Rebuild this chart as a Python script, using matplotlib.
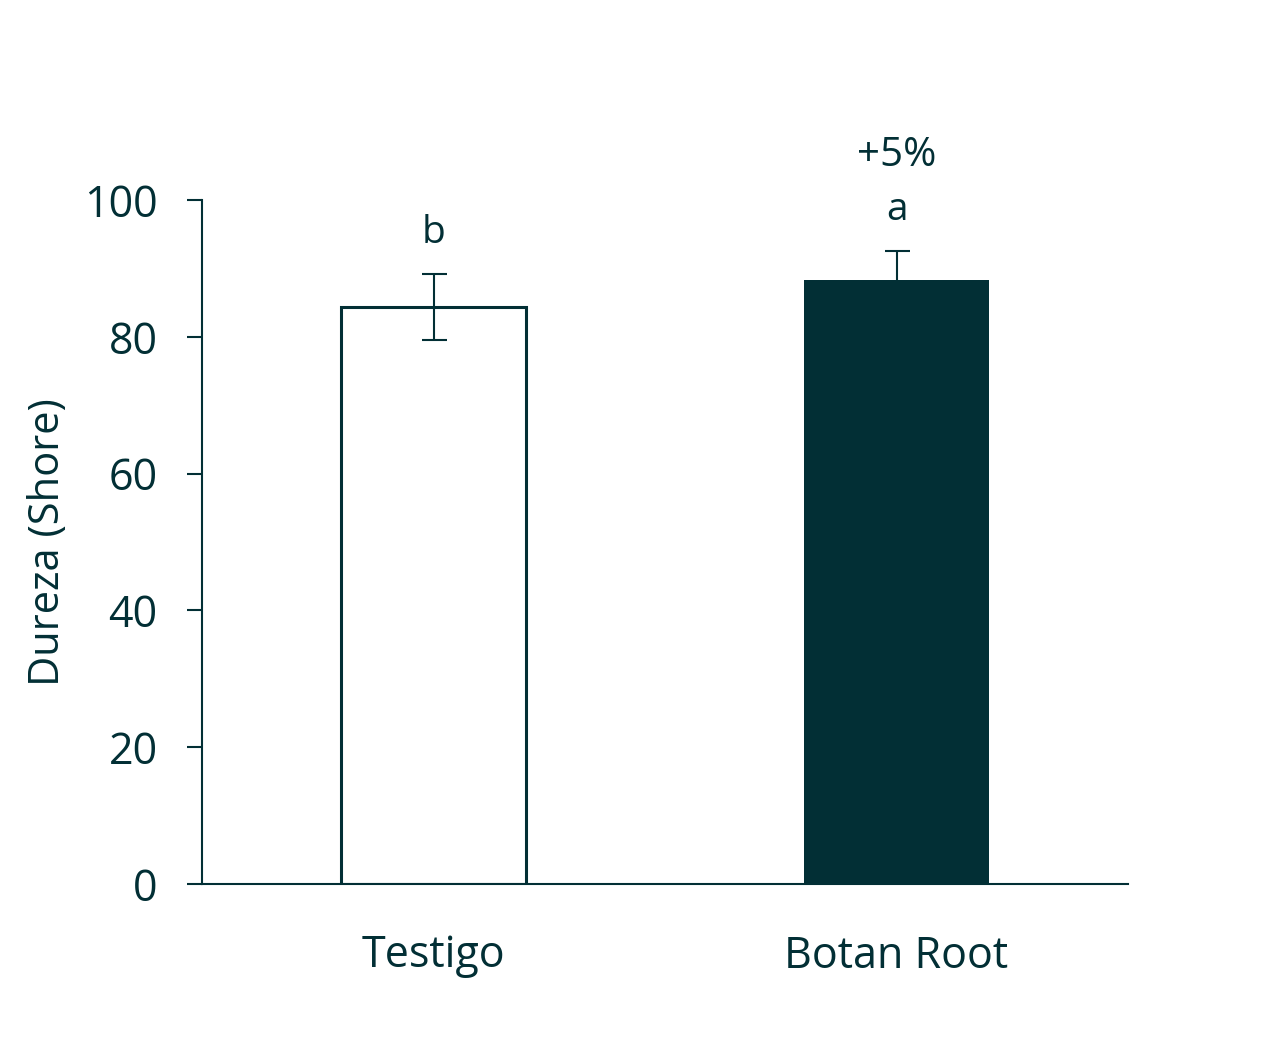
import matplotlib
matplotlib.use("Agg")
import matplotlib.pyplot as plt

categories = ["Testigo", "Botan Root"]
values = [84.4, 88.3]
errors = [4.8, 4.2]
letters = ["b", "a"]
extra = ["", "+5%"]

C = "#022f35"
plt.rcParams['font.family'] = ['Open Sans', 'DejaVu Sans']

fig = plt.figure(figsize=(12.76, 10.58), dpi=100)
ax = fig.add_axes([202/1276, 174/1058, (1128-202)/1276, (884-200)/1058])

x = list(range(len(categories)))
ax.bar(x[0], values[0], width=0.4, color="white", edgecolor=C, linewidth=2.2, zorder=2)
ax.bar(x[1], values[1], width=0.4, color=C, edgecolor=C, linewidth=0, zorder=2)
ax.errorbar(x, values, yerr=errors, fmt="none", ecolor=C, elinewidth=1.5, capsize=9, capthick=1.5, zorder=3)

for i in x:
    top = values[i] + errors[i]
    ax.text(i, top + 6.0, letters[i], ha="center", va="center", fontsize=28, color=C)
    if extra[i]:
        ax.text(i, top + 13.9, extra[i], ha="center", va="center", fontsize=29, color=C)

ax.set_xlim(-0.5, 1.5)
ax.set_ylim(0, 100)
ax.set_yticks([0, 20, 40, 60, 80, 100])
ax.set_xticks(x)
ax.set_xticklabels(categories)
ax.tick_params(axis="y", direction="out", length=11, width=1.5, colors=C, labelsize=31, pad=21)
ax.tick_params(axis="x", length=0, colors=C, labelsize=31, pad=36)
ax.set_ylabel("Dureza (Shore)", fontsize=30, color=C, labelpad=11)
for s in ["top", "right"]:
    ax.spines[s].set_visible(False)
for s in ["left", "bottom"]:
    ax.spines[s].set_color(C)
    ax.spines[s].set_linewidth(1.5)

fig.savefig("out.png", dpi=100)
